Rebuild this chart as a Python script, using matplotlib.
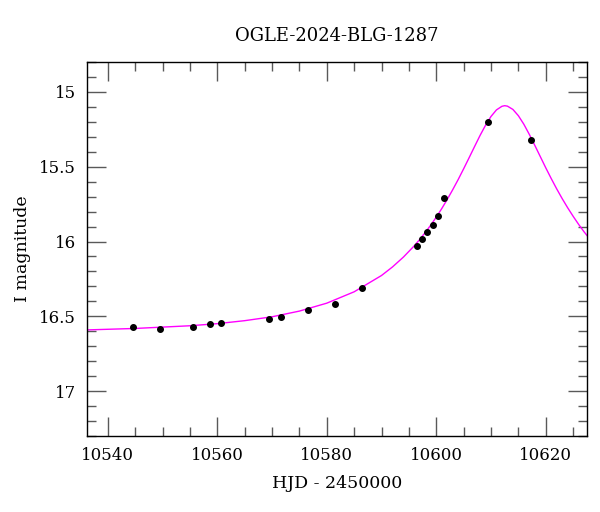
import matplotlib
matplotlib.use("Agg")
import matplotlib.pyplot as plt
from matplotlib.ticker import MultipleLocator

plt.rcParams['font.family'] = ['DejaVu Serif']

# OGLE photometry (HJD - 2450000, I mag, error)
hjd = [10544.55, 10549.5, 10555.6, 10558.6, 10560.6, 10569.4, 10571.6, 10576.5,
       10581.5, 10586.4, 10596.5, 10597.4, 10598.4, 10599.4, 10600.4, 10601.4,
       10609.4, 10617.3]
mag = [16.573, 16.582, 16.571, 16.551, 16.542, 16.518, 16.507, 16.460,
       16.420, 16.313, 16.027, 15.984, 15.937, 15.887, 15.831, 15.709,
       15.202, 15.324]
err = [0.010, 0.010, 0.010, 0.010, 0.010, 0.010, 0.010, 0.010,
       0.010, 0.009, 0.008, 0.008, 0.008, 0.008, 0.008, 0.007,
       0.006, 0.007]

# model curve
model_t = [10536, 10545, 10555, 10560, 10565, 10570, 10575, 10580, 10585, 10590,
           10592, 10594, 10596, 10597, 10598, 10599, 10600, 10601, 10602, 10603,
           10604, 10605, 10606, 10607, 10608, 10609, 10610, 10611, 10612, 10612.5,
           10613, 10614, 10615, 10616, 10617, 10618, 10619, 10620, 10621, 10622,
           10623, 10624, 10625, 10626, 10627, 10628]
model_mag = [16.591, 16.581, 16.563, 16.549, 16.529, 16.503, 16.465, 16.412, 16.336, 16.227,
             16.170, 16.104, 16.028, 15.985, 15.939, 15.890, 15.837, 15.780, 15.719, 15.654,
             15.586, 15.514, 15.440, 15.365, 15.291, 15.223, 15.164, 15.120, 15.096, 15.092,
             15.095, 15.117, 15.159, 15.216, 15.284, 15.357, 15.432, 15.507, 15.579, 15.648,
             15.713, 15.774, 15.831, 15.885, 15.935, 15.981]

fig = plt.figure(figsize=(6, 5.12), dpi=100)
ax = fig.add_axes([0.145, 0.1484, 0.833, 0.7305])

ax.plot(model_t, model_mag, color='#ff00ff', lw=1.0, zorder=2)
ax.errorbar(hjd, mag, yerr=err, fmt='o', color='black', ms=4, ecolor='0.5',
            elinewidth=1.5, capsize=0, zorder=3)

ax.set_xlim(10536.2, 10627.5)
ax.set_ylim(17.30, 14.80)

ax.xaxis.set_major_locator(MultipleLocator(20))
ax.xaxis.set_minor_locator(MultipleLocator(5))
ax.yaxis.set_major_locator(MultipleLocator(0.5))
ax.yaxis.set_minor_locator(MultipleLocator(0.1))
ax.tick_params(which='both', direction='in', top=True, right=True, color='0.35',
               labelsize=12, pad=8)
ax.tick_params(which='major', length=13.5, width=1)
ax.tick_params(which='minor', length=6.5, width=1)
ax.set_yticks([15, 15.5, 16, 16.5, 17])
ax.set_yticklabels(['15', '15.5', '16', '16.5', '17'])
for s in ax.spines.values():
    s.set_linewidth(1.0)

ax.set_title('OGLE-2024-BLG-1287', fontsize=13, pad=15)
ax.set_xlabel('HJD - 2450000', fontsize=12.5, labelpad=8)
ax.set_ylabel('I magnitude', fontsize=12.5, labelpad=6)

fig.savefig('out.png', dpi=100)
